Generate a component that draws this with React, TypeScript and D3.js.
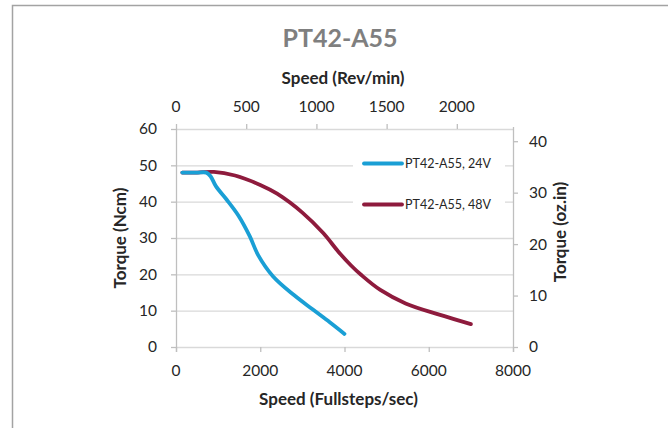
import { useMemo } from "react";
import * as d3 from "d3";

// speed in fullsteps/sec, torque in Ncm
const series24V: [number, number][] = [
  [150, 48], [500, 48], [720, 48], [820, 47], [950, 44.2], [1200, 40.6], [1480, 36.2],
  [1750, 30.5], [1950, 25.3], [2300, 19.5], [2800, 14.3], [3250, 10.3], [3650, 6.8], [4000, 3.6],
];
const series48V: [number, number][] = [
  [150, 48], [500, 48], [900, 48.2], [1400, 47.2], [2000, 44.6], [2400, 42.2], [3000, 37],
  [3500, 31.3], [3850, 26.3], [4150, 22.5], [4400, 19.8], [4850, 15.7], [5450, 12], [6250, 8.9], [7000, 6.3],
];
const seriesNames = ["PT42-A55, 24V", "PT42-A55, 48V"];
const seriesColors = ["#1a9fd5", "#8e1b3d"];

const xTicks = [0, 2000, 4000, 6000, 8000];
const yTicks = [0, 10, 20, 30, 40, 50, 60];
const topTicks = [0, 500, 1000, 1500, 2000];
const rightTicks = [0, 10, 20, 30, 40];

const FONT = "Lato, 'Open Sans', sans-serif";

export default function App() {
  const W = 668;
  const H = 428;
  const left = 176;
  const right = 513;
  const top = 129;
  const bottom = 347;

  const x = d3.scaleLinear().domain([0, 8000]).range([left, right]);
  const y = d3.scaleLinear().domain([0, 60]).range([bottom, top]);
  const xTop = d3.scaleLinear().domain([0, 2400]).range([left, right]);
  const yRight = d3.scaleLinear().domain([0, 60 / 1.416]).range([bottom, top]);

  const line = useMemo(
    () =>
      d3
        .line<[number, number]>()
        .x((d) => x(d[0]))
        .y((d) => y(d[1]))
        .curve(d3.curveCatmullRom.alpha(0.5)),
    []
  );

  const axisColor = "#bfbfbf";
  const gridColor = "#d9d9d9";
  const textColor = "#262626";
  const tickSize = 15.5;
  const titleSize = 17;

  return (
    <svg
      width={W}
      height={H}
      style={{ position: "absolute", left: 0, top: 0, background: "#fff" }}
      fontFamily={FONT}
    >
      <rect x={12.5} y={5.5} width={700} height={500} fill="#fff" stroke="#a3a3a3" strokeWidth={1.5} />

      <text x={340} y={47} textAnchor="middle" fontSize={25} fontWeight="bold" fill="#7f7f7f">
        PT42-A55
      </text>

      {/* gridlines */}
      {yTicks.map((t) => (
        <line key={"g" + t} x1={left} x2={right} y1={y(t) + 0.5} y2={y(t) + 0.5} stroke={gridColor} strokeWidth={1.3} />
      ))}

      {/* left axis */}
      <line x1={left + 0.5} x2={left + 0.5} y1={top} y2={bottom + 5} stroke={axisColor} strokeWidth={1.3} />
      {yTicks.map((t) => (
        <g key={"y" + t}>
          <line x1={left - 5} x2={left} y1={y(t) + 0.5} y2={y(t) + 0.5} stroke={axisColor} strokeWidth={1.3} />
          <text x={157} y={y(t)} dy="0.35em" textAnchor="end" fontSize={tickSize} fill={textColor}>
            {t}
          </text>
        </g>
      ))}
      <text
        transform={`translate(126,${(top + bottom) / 2}) rotate(-90)`}
        textAnchor="middle"
        fontSize={titleSize}
        fontWeight="bold"
        fill={textColor}
      >
        Torque (Ncm)
      </text>

      {/* bottom axis */}
      {xTicks.map((t) => (
        <g key={"x" + t}>
          <line x1={x(t) + 0.5} x2={x(t) + 0.5} y1={bottom} y2={bottom + 5} stroke={axisColor} strokeWidth={1.3} />
          <text x={x(t)} y={376} textAnchor="middle" fontSize={tickSize} fill={textColor}>
            {t}
          </text>
        </g>
      ))}
      <text x={(left + right) / 2 - 6} y={405} textAnchor="middle" fontSize={titleSize} fontWeight="bold" fill={textColor}>
        Speed (Fullsteps/sec)
      </text>

      {/* top axis */}
      {topTicks.map((t) => (
        <g key={"t" + t}>
          <line x1={xTop(t) + 0.5} x2={xTop(t) + 0.5} y1={top - 5} y2={top} stroke={axisColor} strokeWidth={1.3} />
          <text x={xTop(t)} y={112} textAnchor="middle" fontSize={tickSize} fill={textColor}>
            {t}
          </text>
        </g>
      ))}
      <text x={343} y={84} textAnchor="middle" fontSize={titleSize} fontWeight="bold" fill={textColor}>
        Speed (Rev/min)
      </text>

      {/* right axis */}
      <line x1={right + 0.5} x2={right + 0.5} y1={top - 2} y2={bottom + 5} stroke={axisColor} strokeWidth={1.3} />
      {rightTicks.map((t) => (
        <g key={"r" + t}>
          <line x1={right} x2={right + 5} y1={yRight(t) + 0.5} y2={yRight(t) + 0.5} stroke={axisColor} strokeWidth={1.3} />
          <text x={529} y={yRight(t)} dy="0.35em" textAnchor="start" fontSize={tickSize} fill={textColor}>
            {t}
          </text>
        </g>
      ))}
      <text
        transform={`translate(566,232) rotate(-90)`}
        textAnchor="middle"
        fontSize={titleSize}
        fontWeight="bold"
        fill={textColor}
      >
        Torque (oz.in)
      </text>

      {/* lines */}
      <path d={line(series48V) || ""} fill="none" stroke={seriesColors[1]} strokeWidth={3.8} strokeLinecap="round" />
      <path d={line(series24V) || ""} fill="none" stroke={seriesColors[0]} strokeWidth={3.8} strokeLinecap="round" />

      {/* legend */}
      <rect x={353} y={148} width={152} height={70} fill="#fff" />
      {seriesNames.map((name, i) => {
        const ly = 163.5 + i * 41;
        return (
          <g key={name}>
            <line x1={364} x2={402} y1={ly} y2={ly} stroke={seriesColors[i]} strokeWidth={3.8} strokeLinecap="round" />
            <text x={405} y={ly} dy="0.35em" fontSize={12.5} fill={textColor}>
              {name}
            </text>
          </g>
        );
      })}
    </svg>
  );
}
